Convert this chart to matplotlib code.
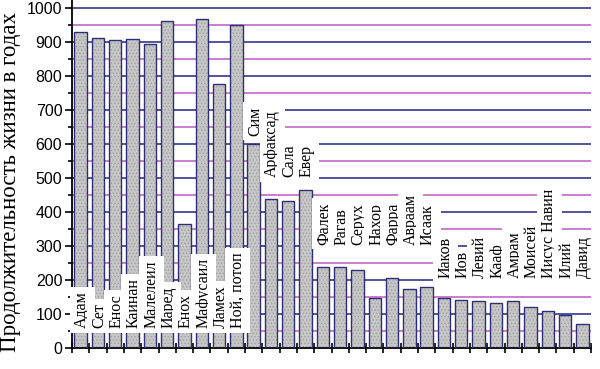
import numpy as np
import matplotlib.pyplot as plt

# Lifespans of the biblical patriarchs (years)
names = ['Адам', 'Сет', 'Енос', 'Каинан', 'Малелеил', 'Иаред', 'Енох', 'Мафусаил',
         'Ламех', 'Ной, потоп', 'Сим', 'Арфаксад', 'Сала', 'Евер', 'Фалек', 'Рагав',
         'Серух', 'Нахор', 'Фарра', 'Авраам', 'Исаак', 'Иаков', 'Иов', 'Левий',
         'Кааф', 'Амрам', 'Моисей', 'Иисус Навин', 'Илий', 'Давид']
years = [930, 912, 905, 910, 895, 962, 365, 969, 777, 950,
         600, 438, 433, 464, 239, 239, 230, 148, 205, 175,
         180, 147, 140, 137, 133, 137, 120, 110, 98, 70]

# where the bottom of each name label sits (in axis units)
label_base = [58] * 10 + [625, 503, 503, 503] + [303] * 7 + [205] * 9

serif = 'Liberation Serif'
sans = 'Liberation Sans'

fig = plt.figure(figsize=(6, 3.69), dpi=100)
ax = fig.add_axes([72 / 600, 1 - 348 / 369, 519 / 600, 348 / 369])

x = np.arange(len(names))
ax.set_xlim(-0.5, len(names) - 0.5)
ax.set_ylim(0, 1024)

# horizontal lines every 50, navy on the hundreds, pink in between
for v in range(50, 1001, 50):
    col = '#35358f' if v % 100 == 0 else '#c466c8'
    ax.axhline(v, color=col, lw=1.2, zorder=1)

# bars: dotted grey fill, then a navy outline
plt.rcParams['hatch.linewidth'] = 0.6
ax.bar(x, years, width=0.72, color='#c6c6c6', edgecolor='#a2a2a2', hatch='.....',
       linewidth=0, zorder=2)
ax.bar(x, years, width=0.72, fill=False, edgecolor='#2e2e78', linewidth=1.0, zorder=3)

for i, name in enumerate(names):
    ax.text(i + 0.08, label_base[i], name, rotation=90, ha='center', va='bottom',
            fontsize=11.5, family=serif, zorder=5,
            bbox=dict(facecolor='white', edgecolor='none', pad=3.2))

for s in ['top', 'right']:
    ax.spines[s].set_visible(False)
ax.spines['left'].set_linewidth(1.3)
ax.spines['bottom'].set_linewidth(1.3)

ax.set_yticks(range(0, 1001, 100))
ax.set_yticks(range(50, 1000, 100), minor=True)
ax.tick_params(axis='y', which='major', length=5, width=1.2, labelsize=11.5, pad=2)
ax.tick_params(axis='y', which='minor', length=3, width=1.2)
for lab in ax.get_yticklabels():
    lab.set_family(sans)

ax.set_xticks(np.arange(-0.5, len(names), 1.0))
ax.set_xticklabels([])
ax.tick_params(axis='x', direction='inout', length=7, width=1.2)

fig.text(0.017, 0.507, 'Продолжительность жизни в годах', rotation=90,
         ha='center', va='center', fontsize=16.5, family=serif)

fig.savefig('out.png', dpi=100)
